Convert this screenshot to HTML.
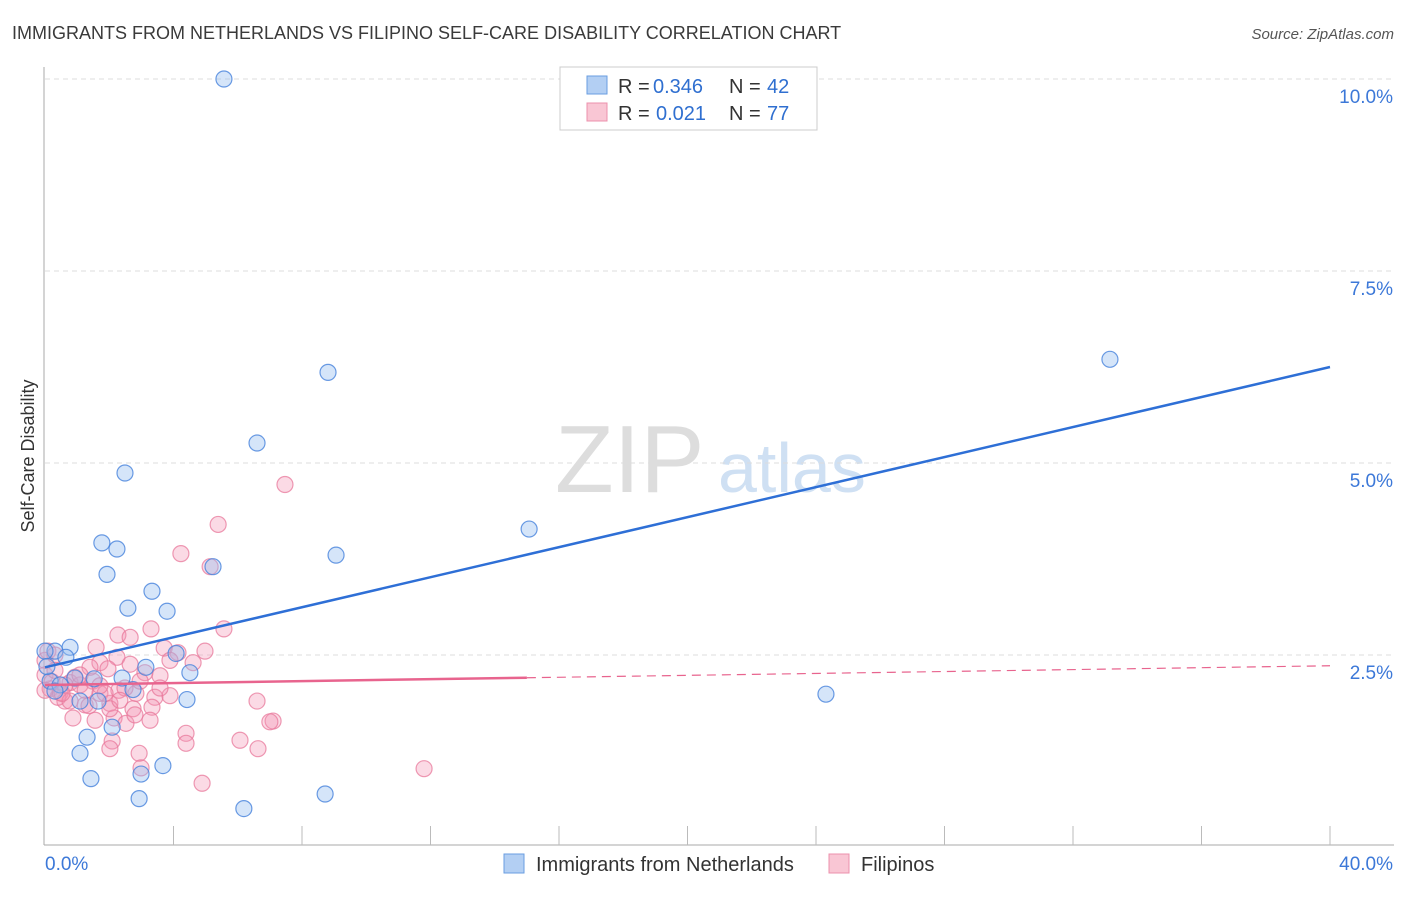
<!DOCTYPE html>
<html><head><meta charset="utf-8"><style>
body{margin:0;background:#fff;font-family:"Liberation Sans",sans-serif}
svg text{font-family:"Liberation Sans",sans-serif}
</style></head><body>
<svg id="c" width="1406" height="892">
<text x="12" y="39" font-size="18" fill="#3a3a3a">IMMIGRANTS FROM NETHERLANDS VS FILIPINO SELF-CARE DISABILITY CORRELATION CHART</text>
<text x="1394" y="39" font-size="15" fill="#555" font-style="italic" text-anchor="end">Source: ZipAtlas.com</text>
<text x="34" y="456" font-size="18" fill="#333" transform="rotate(-90 34 456)" text-anchor="middle">Self-Care Disability</text>
<text x="555" y="492" font-size="96" fill="#ddd" font-family="Liberation Serif">ZIP</text>
<text x="718" y="492" font-size="70" fill="#cfe0f3">atlas</text>
<g id="grid"></g><g id="pts"></g><g id="lines"></g>
<g>
<rect x="560" y="67" width="257" height="63" fill="#fff" stroke="#ccc"/>
<rect x="587" y="76" width="20" height="18" fill="#b3cff3" stroke="#6a9ee0"/>
<rect x="587" y="103" width="20" height="18" fill="#f9c6d4" stroke="#ec90ac"/>
<text x="618" y="93" font-size="20" fill="#333">R =</text>
<text x="653" y="93" font-size="20" fill="#2f6fd0">0.346</text>
<text x="729" y="93" font-size="20" fill="#333">N =</text>
<text x="767" y="93" font-size="20" fill="#2f6fd0">42</text>
<text x="618" y="120" font-size="20" fill="#333">R =</text>
<text x="656" y="120" font-size="20" fill="#2f6fd0">0.021</text>
<text x="729" y="120" font-size="20" fill="#333">N =</text>
<text x="767" y="120" font-size="20" fill="#2f6fd0">77</text>
</g>
<g>
<rect x="504" y="854" width="20" height="19" fill="#b3cff3" stroke="#6a9ee0"/>
<text x="536" y="871" font-size="20" fill="#333">Immigrants from Netherlands</text>
<rect x="829" y="854" width="20" height="19" fill="#f9c6d4" stroke="#ec90ac"/>
<text x="861" y="871" font-size="20" fill="#333">Filipinos</text>
</g>
</svg>
<script>
const xTicks=[0,40];
const yTicks=[2.5,5.0,7.5,10.0];
const blueX=[5.57,8.81,6.6,2.49,33.15,15.07,9.06,1.77,2.24,1.93,5.23,3.33,2.58,3.8,0.78,0.31,0.65,4.08,3.14,4.51,2.4,1.53,0.93,0.16,0.47,2.74,4.42,24.31,1.09,1.65,2.09,1.31,1.09,3.67,2.99,1.43,2.93,6.19,8.72,0,0.06,0.31];
const blueY=[10.0,6.18,5.26,4.87,6.35,4.14,3.8,3.96,3.88,3.55,3.65,3.33,3.11,3.07,2.6,2.55,2.47,2.52,2.34,2.27,2.2,2.19,2.2,2.16,2.11,2.05,1.92,1.99,1.9,1.9,1.56,1.43,1.22,1.06,0.95,0.89,0.63,0.5,0.69,2.55,2.35,2.03];
const pinkX=[7.47,5.39,4.23,5.14,5.57,3.3,2.27,2.65,1.59,3.71,4.98,4.14,2.24,1.71,4.61,2.65,1.96,3.11,3.58,1.49,0.78,1.09,2.3,0.16,0.47,1.71,2.83,3.89,3.42,6.6,0.62,1.25,2.02,3.33,2.74,1.37,0.87,2.15,2.52,7.1,7.0,4.39,4.39,6.07,2.09,2.02,2.93,6.63,2.99,4.89,11.8,0,0,0.22,0.09,0.4,0.93,1.4,1.87,2.49,3.58,2.02,1.56,0.62,1.09,2.8,0.31,0.78,1.25,1.71,2.33,2.96,3.27,3.89,0.31,0.53,0];
const pinkY=[4.72,4.2,3.82,3.65,2.84,2.84,2.76,2.73,2.6,2.59,2.55,2.53,2.47,2.4,2.4,2.38,2.32,2.27,2.23,2.16,2.14,2.11,2.04,2.06,2.01,2.0,2.0,1.97,1.95,1.9,1.9,1.85,1.87,1.82,1.8,1.84,1.68,1.68,1.61,1.64,1.63,1.48,1.35,1.39,1.38,1.28,1.22,1.28,1.03,0.83,1.02,2.43,2.24,2.15,2.55,1.95,2.21,2.34,2.0,2.07,2.07,1.8,1.65,2.11,2.24,1.72,2.3,1.9,2.04,2.1,1.91,2.16,1.65,2.43,2.5,2.0,2.04];
const blueLine=[2.34,6.25];
const pinkLine=[2.11,2.36];
const pinkSolidEnd=15;
const X=v=>45+v*32.125, Y=v=>847-v*76.8;
const NS='http://www.w3.org/2000/svg';
function mk(p,t,a){const e=document.createElementNS(NS,t);for(const k in a)e.setAttribute(k,a[k]);p.appendChild(e);return e;}
const g=document.getElementById('grid');
yTicks.forEach(t=>{
const l=mk(g,'line',{x1:45,x2:1394,y1:Y(t),y2:Y(t),stroke:'#ddd','stroke-dasharray':'5,4'});


const tx=mk(g,'text',{x:1393,y:Y(t)+24,'font-size':19,fill:'#3c78d8','text-anchor':'end'});tx.textContent=t.toFixed(1)+'%';


});
mk(g,'line',{x1:44,x2:44,y1:67,y2:845,stroke:'#aaa'});
mk(g,'line',{x1:44,x2:1394,y1:845,y2:845,stroke:'#aaa'});
for(let i=1;i<=10;i++){const x=X(i*4);mk(g,'line',{x1:x,x2:x,y1:826,y2:845,stroke:'#bbb'});}
xTicks.forEach((t,i)=>{const tx=mk(g,'text',{x:i?1393:45,y:870,'font-size':19,fill:'#3c78d8','text-anchor':i?'end':'start'});tx.textContent=t.toFixed(1)+'%';

});
const p=document.getElementById('pts');
pinkX.forEach((x,i)=>{const c=mk(p,'circle',{cx:X(x),cy:Y(pinkY[i]),r:8,fill:'rgba(244,150,180,0.35)',stroke:'rgba(232,120,155,0.75)','stroke-width':1.2});

});
blueX.forEach((x,i)=>{const c=mk(p,'circle',{cx:X(x),cy:Y(blueY[i]),r:8,fill:'rgba(150,190,240,0.4)',stroke:'rgba(70,130,220,0.8)','stroke-width':1.2});

});
const L=document.getElementById('lines');
const bl=mk(L,'line',{x1:X(0),y1:Y(blueLine[0]),x2:X(40),y2:Y(blueLine[1]),stroke:'#2e6fd6','stroke-width':2.5});


const pm=pinkLine[0]+(pinkLine[1]-pinkLine[0])*pinkSolidEnd/40;
const pl=mk(L,'line',{x1:X(0),y1:Y(pinkLine[0]),x2:X(pinkSolidEnd),y2:Y(pm),stroke:'#e8648e','stroke-width':2.5});


const pd=mk(L,'line',{x1:X(pinkSolidEnd),y1:Y(pm),x2:X(40),y2:Y(pinkLine[1]),stroke:'#e8648e','stroke-width':1.2,'stroke-dasharray':'9,6'});


</script>
</body></html>
